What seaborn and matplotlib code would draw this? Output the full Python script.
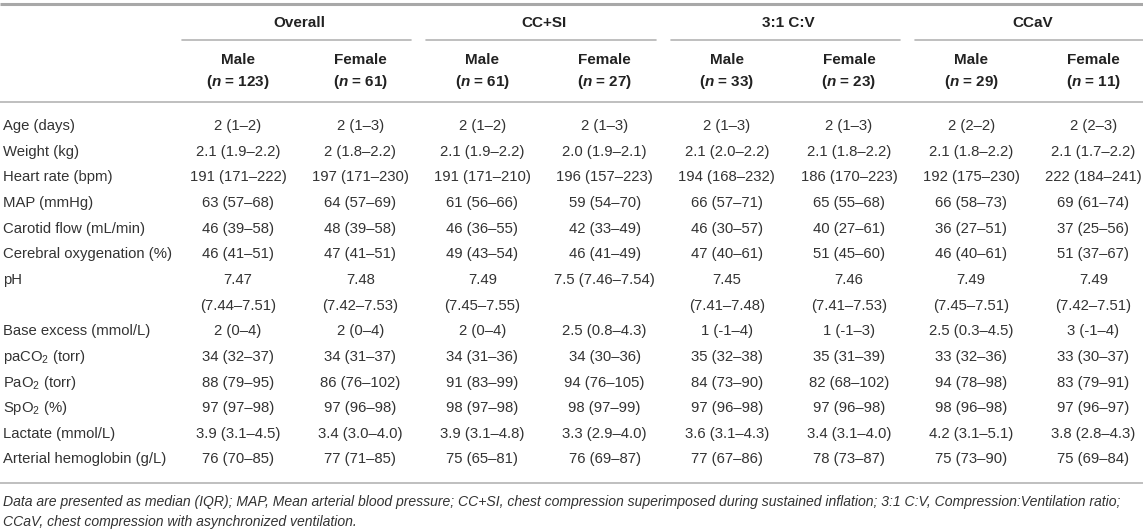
import matplotlib
matplotlib.use("Agg")
import matplotlib.pyplot as plt
import seaborn as sns
import pandas as pd

# table content
groups = ["Overall", "CC+SI", "3:1 C:V", "CCaV"]
sexes = ["Male", "Female"]
n_counts = [123, 61, 61, 27, 33, 23, 29, 11]

row_labels = ["Age (days)", "Weight (kg)", "Heart rate (bpm)", "MAP (mmHg)",
              "Carotid flow (mL/min)", "Cerebral oxygenation (%)", "pH",
              "Base excess (mmol/L)", r"paCO$_2$ (torr)", r"PaO$_2$ (torr)",
              r"SpO$_2$ (%)", "Lactate (mmol/L)", "Arterial hemoglobin (g/L)"]

overall_male = ["2 (1–2)", "2.1 (1.9–2.2)", "191 (171–222)", "63 (57–68)", "46 (39–58)",
                "46 (41–51)", "7.47\n(7.44–7.51)", "2 (0–4)", "34 (32–37)", "88 (79–95)",
                "97 (97–98)", "3.9 (3.1–4.5)", "76 (70–85)"]
overall_female = ["2 (1–3)", "2 (1.8–2.2)", "197 (171–230)", "64 (57–69)", "48 (39–58)",
                  "47 (41–51)", "7.48\n(7.42–7.53)", "2 (0–4)", "34 (31–37)", "86 (76–102)",
                  "97 (96–98)", "3.4 (3.0–4.0)", "77 (71–85)"]
ccsi_male = ["2 (1–2)", "2.1 (1.9–2.2)", "191 (171–210)", "61 (56–66)", "46 (36–55)",
             "49 (43–54)", "7.49\n(7.45–7.55)", "2 (0–4)", "34 (31–36)", "91 (83–99)",
             "98 (97–98)", "3.9 (3.1–4.8)", "75 (65–81)"]
ccsi_female = ["2 (1–3)", "2.0 (1.9–2.1)", "196 (157–223)", "59 (54–70)", "42 (33–49)",
               "46 (41–49)", "7.5 (7.46–7.54)", "2.5 (0.8–4.3)", "34 (30–36)", "94 (76–105)",
               "98 (97–99)", "3.3 (2.9–4.0)", "76 (69–87)"]
cv_male = ["2 (1–3)", "2.1 (2.0–2.2)", "194 (168–232)", "66 (57–71)", "46 (30–57)",
           "47 (40–61)", "7.45\n(7.41–7.48)", "1 (-1–4)", "35 (32–38)", "84 (73–90)",
           "97 (96–98)", "3.6 (3.1–4.3)", "77 (67–86)"]
cv_female = ["2 (1–3)", "2.1 (1.8–2.2)", "186 (170–223)", "65 (55–68)", "40 (27–61)",
             "51 (45–60)", "7.46\n(7.41–7.53)", "1 (-1–3)", "35 (31–39)", "82 (68–102)",
             "97 (96–98)", "3.4 (3.1–4.0)", "78 (73–87)"]
ccav_male = ["2 (2–2)", "2.1 (1.8–2.2)", "192 (175–230)", "66 (58–73)", "36 (27–51)",
             "46 (40–61)", "7.49\n(7.45–7.51)", "2.5 (0.3–4.5)", "33 (32–36)", "94 (78–98)",
             "98 (96–98)", "4.2 (3.1–5.1)", "75 (73–90)"]
ccav_female = ["2 (2–3)", "2.1 (1.7–2.2)", "222 (184–241)", "69 (61–74)", "37 (25–56)",
               "51 (37–67)", "7.49\n(7.42–7.51)", "3 (-1–4)", "33 (30–37)", "83 (79–91)",
               "97 (96–97)", "3.8 (2.8–4.3)", "75 (69–84)"]

footnote = ["Data are presented as median (IQR); MAP, Mean arterial blood pressure; CC+SI, chest "
            "compression superimposed during sustained inflation; 3:1 C:V, Compression:Ventilation ratio;",
            "CCaV, chest compression with asynchronized ventilation."]

table = pd.DataFrame({
    ("Overall", "Male"): overall_male, ("Overall", "Female"): overall_female,
    ("CC+SI", "Male"): ccsi_male, ("CC+SI", "Female"): ccsi_female,
    ("3:1 C:V", "Male"): cv_male, ("3:1 C:V", "Female"): cv_female,
    ("CCaV", "Male"): ccav_male, ("CCaV", "Female"): ccav_female,
}, index=row_labels)

sns.set_theme(style="white")
plt.rcParams["font.family"] = ["Liberation Sans", "DejaVu Sans"]
plt.rcParams["mathtext.fontset"] = "custom"
plt.rcParams["mathtext.rm"] = "Liberation Sans"
plt.rcParams["mathtext.it"] = "Liberation Sans:italic"
plt.rcParams["mathtext.bf"] = "Liberation Sans:bold"
plt.rcParams["mathtext.bfit"] = "Liberation Sans:bold:italic"

W, H = 1143, 531
fig = plt.figure(figsize=(W / 100, H / 100), dpi=100)
ax = fig.add_axes([0, 0, 1, 1])
ax.set_xlim(0, W)
ax.set_ylim(H, 0)
ax.axis("off")

body_col = "#333333"
head_col = "#222222"
rule_col = "#b4b4b4"
fs = 10.7
fs_head = 11

x0, dx = 238, 122.2     # first data column centre, column pitch
y0, dy = 126, 25.65     # first row centre, line pitch

# rules
ax.plot([0, W], [4, 4], color="#a8a8a8", lw=2.2, solid_capstyle="butt")
ax.plot([0, W], [102, 102], color=rule_col, lw=1.2)

for g, name in enumerate(groups):
    xl = x0 + dx * 2 * g
    xr = xl + dx
    ax.text((xl + xr) / 2, 23, name, ha="center", va="center", fontsize=fs_head,
            fontweight="bold", color=head_col)
    ax.plot([xl - 56, min(xr + 51, W)], [40, 40], color=rule_col, lw=1.2)

for j, col in enumerate(table.columns):
    x = x0 + dx * j
    ax.text(x, 60, col[1], ha="center", va="center", fontsize=fs_head,
            fontweight="bold", color=head_col)
    ax.text(x, 82, r"($\mathbfit{n}$ = %d)" % n_counts[j], ha="center", va="center",
            fontsize=fs_head, fontweight="bold", color=head_col)

y = y0
for label, row in table.iterrows():
    ax.text(3, y, label, ha="left", va="center", fontsize=fs, color=body_col)
    nlines = 1
    for j, val in enumerate(row):
        parts = val.split("\n")
        nlines = max(nlines, len(parts))
        for k, p in enumerate(parts):
            ax.text(x0 + dx * j, y + k * dy, p, ha="center", va="center",
                    fontsize=fs, color=body_col)
    y += dy * nlines

y_rule = y - dy + 24
ax.plot([0, W], [y_rule, y_rule], color=rule_col, lw=1.2)
for k, line in enumerate(footnote):
    ax.text(3, y_rule + 19 + k * 19.5, line, ha="left", va="center", fontsize=10.1,
            style="italic", color=body_col)

fig.savefig("out.png", dpi=100)
